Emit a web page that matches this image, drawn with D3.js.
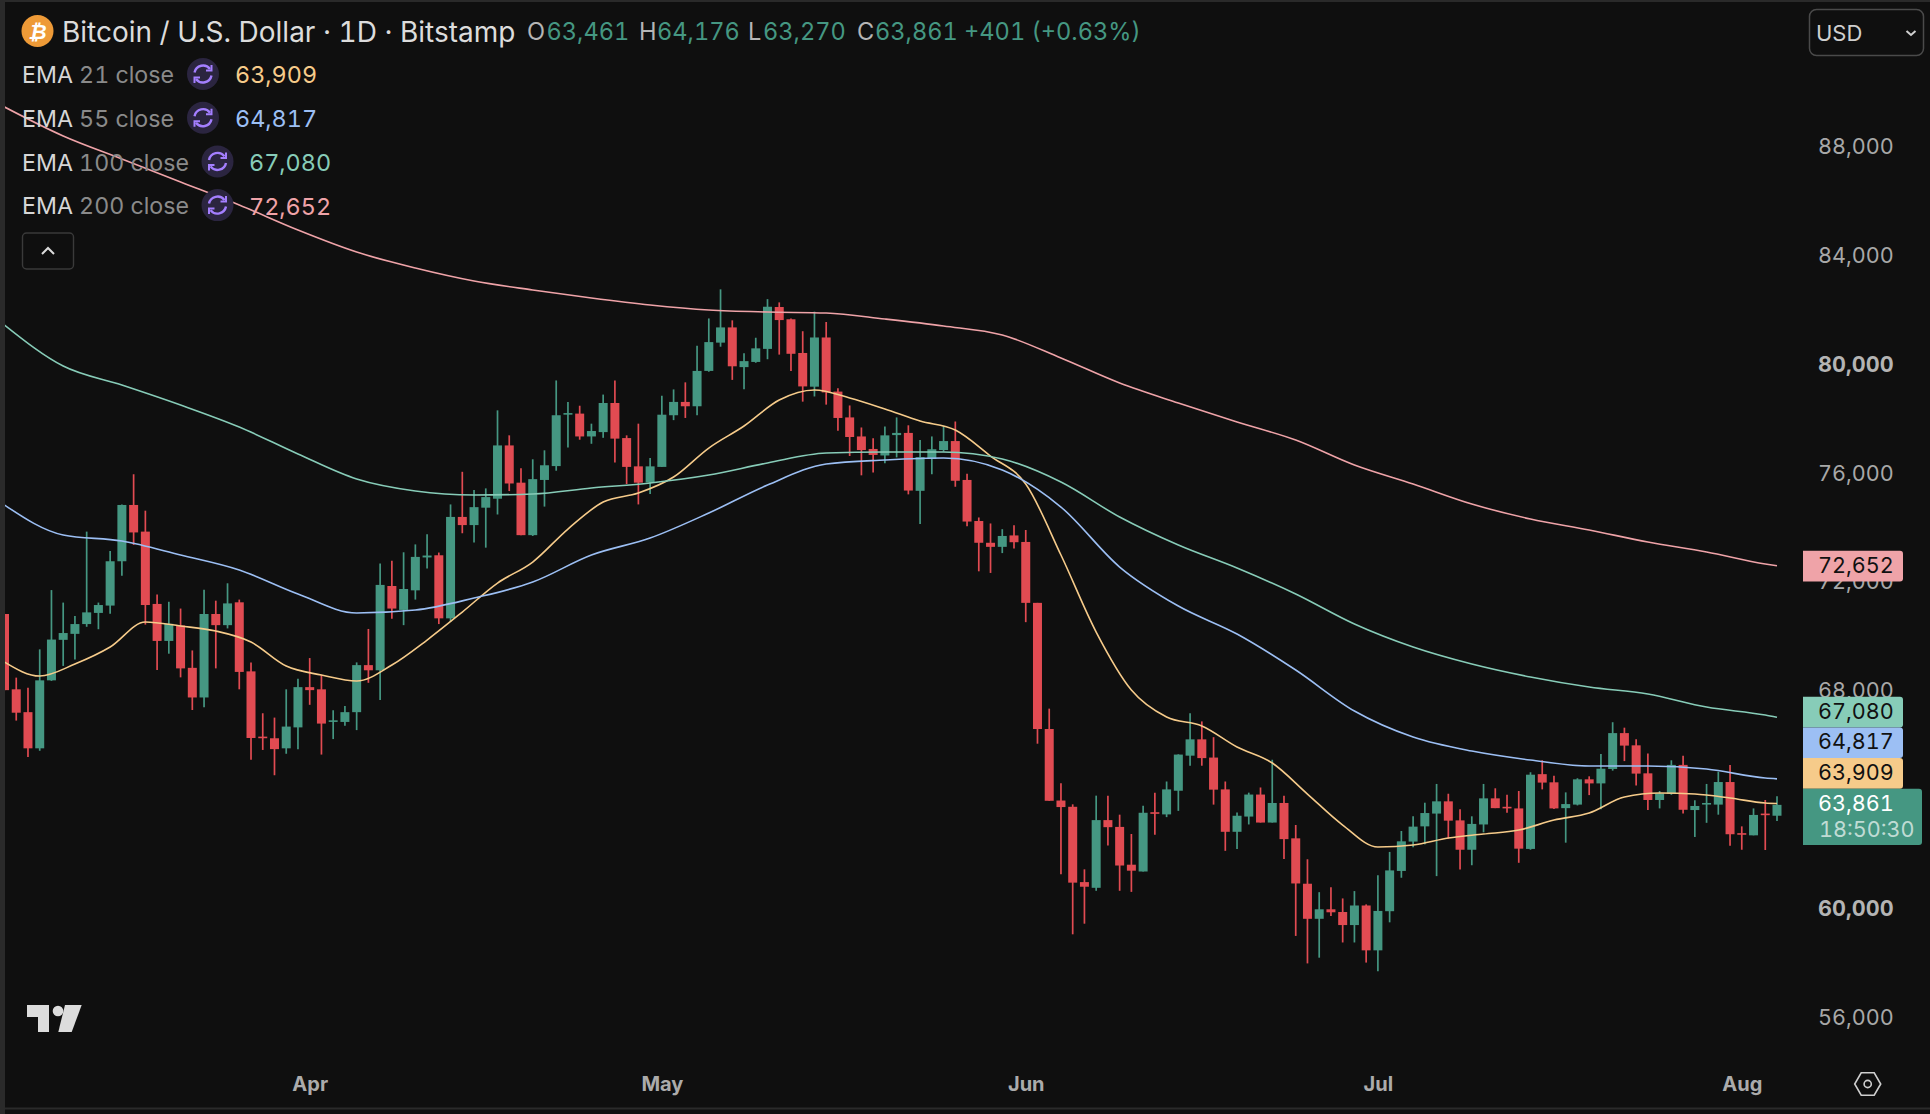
<!DOCTYPE html>
<html><head><meta charset="utf-8">
<script src="https://cdnjs.cloudflare.com/ajax/libs/d3/7.8.5/d3.min.js"></script>
<style>
html,body{margin:0;padding:0;background:#0f0f0f;overflow:hidden}
svg{display:block}
text{font-family:Inter,"Noto Sans",sans-serif;font-variant-numeric:tabular-nums}
.domain,.tick line{display:none}
</style></head><body><svg id="c" width="1930" height="1114"></svg>
<script>
const opens=[70880,68110,67270,65940,68440,69930,70150,70510,70920,71190,72820,74890,73910,71250,69890,70460,68900,67810,70880,70470,71310,68770,66370,66310,65940,66710,68190,68110,66920,66910,67270,69000,68810,71910,71030,71750,72960,73040,70720,74450,74150,74790,75120,77080,75710,73780,75810,76320,78220,78250,77410,77570,78640,77350,76310,75720,76290,78190,78680,78520,79820,80860,81420,79960,80150,80630,82170,81720,80480,79240,81050,79060,78110,77410,76950,76710,77460,77540,75410,76580,76910,77240,75810,74300,73500,73350,73770,73530,71290,66650,64020,63790,61020,60810,63300,63050,61660,61410,63590,63510,64380,65670,66270,65600,64430,62870,63430,64240,63210,63930,62630,60960,59670,60020,59920,59440,60160,58510,59950,61430,62510,63070,63540,63990,63290,62210,63140,64100,63790,63730,62240,64990,64690,63740,63870,64800,64650,65180,66500,66050,65020,64040,64270,65330,63670,63880,63870,64700,62820,62740,63540,63461];
const highs=[70880,68540,68170,69580,71760,71300,70810,73910,71300,73200,74910,76020,74680,71600,71330,71080,69540,71770,71370,72010,71410,69100,67230,67070,68110,68500,69260,68640,67340,67500,69100,70330,72740,72840,73150,73440,73810,73140,74910,76110,75440,75500,78370,77450,76240,76570,76900,79470,78680,78540,77880,78950,79470,77450,77880,76620,78910,79140,79400,80750,81750,82820,81680,80470,81040,82460,82340,81750,81280,82000,81620,79180,78550,77740,77340,77780,78110,77820,77280,77410,77800,77960,76040,74430,74210,74000,74140,73970,71290,67400,64660,63880,61490,64200,64200,63500,62790,63830,64310,64720,65720,67230,66930,66350,64720,63580,64310,64500,65520,64200,63120,61860,60650,60830,60420,60690,60200,61270,62130,62900,63440,63940,64630,64270,63700,63440,64630,64470,64230,64370,65060,65500,64930,64320,64840,64910,65730,66900,66700,66270,65750,64370,65500,65670,64030,64630,65080,65330,63070,63730,64040,64176];
const lows=[68080,66960,65620,65850,68420,68970,69210,70410,70320,70890,72290,73420,70490,68820,69420,68550,67350,67450,68880,70350,68110,65520,65880,64950,65740,65910,67540,65710,66280,66770,66610,68350,67720,70710,70470,71410,72550,70510,70590,73850,73510,73320,74540,75400,73780,73750,74830,76150,77000,77290,77140,77360,76450,75660,74910,75290,76290,78010,78090,78190,79790,80710,79490,79150,80120,80250,80420,79820,78690,78880,78580,77620,76690,75980,76080,76420,76640,75280,74190,76020,76850,75560,74110,72450,72390,73120,73290,70580,66110,64010,61310,59100,59490,60700,62370,60700,60660,61410,62760,63410,63640,65300,65300,63870,62170,62240,63140,63210,63210,61870,59040,58030,58240,59770,58800,58800,58060,57740,59540,61180,62300,62410,61240,62620,61480,61640,62850,63740,63570,61730,62210,64430,63710,62470,63840,64220,63700,65120,65470,64570,63670,63730,64230,63540,62680,63200,63500,62360,62210,62740,62200,63270];
const closes=[68080,67250,65940,68440,69940,70180,70510,70940,71210,72820,74890,73880,71210,69890,70520,68880,67810,70880,70470,71270,68750,66320,66320,65910,66740,68190,68080,66850,66970,67270,69000,68810,71950,71080,71800,72980,73030,70720,74450,74150,74810,75180,77080,75680,73780,75840,76350,78190,78270,77410,77610,78640,77330,76290,75710,76310,78210,78680,78520,79820,80880,81420,79990,80180,80650,82180,81690,80450,79250,81050,79030,78090,77390,76910,76730,77450,77540,75420,76650,76940,77240,75780,74280,73500,73350,73750,73520,71290,66650,64010,63780,61000,60850,63300,63040,61630,61440,63570,63540,64430,65710,66270,65580,64420,62870,63460,64240,63210,63930,62600,60970,59670,60020,59910,59440,60160,58510,59960,61450,62520,63060,63560,63990,63280,62210,63160,64100,63740,63740,62250,64970,64680,63730,63890,64800,64650,65190,66500,66040,65010,64040,64280,65330,63680,63820,63930,64700,62780,62780,63490,63490,63861];
const slowDays=[0,5,10,15,20,25,30,35,40,45,50,55,60,65,70,75,80,85,90,95,100,105,110,115,120,125,130,135,140,145,150,151];
const ema200=[89526,88460,87614,86768,85922,85002,84193,83605,83127,82796,82501,82244,82060,81986,81950,81729,81472,81141,80295,79375,78640,77941,77279,76359,75660,74925,74373,73968,73527,73159,72718,72652];
const ema100=[81508,80000,79302,78566,77757,76764,75844,75403,75256,75293,75513,75697,75991,76433,76800,76837,76837,76580,75734,74447,73417,72571,71615,70511,69665,69040,68562,68194,67936,67458,67164,67080];
const ema55=[74888,73785,73564,73049,72497,71615,70916,71026,71467,72056,73049,73674,74594,75624,76396,76543,76617,76175,74814,72608,71173,70143,68819,67311,66355,65840,65509,65288,65288,65178,64847,64817];
const fastDays=[0,3,6,9,12,15,18,21,24,27,30,33,36,39,42,45,48,51,54,57,60,63,66,69,72,75,78,81,84,87,90,93,96,99,102,105,108,111,114,117,120,123,126,129,132,135,138,141,144,147,150,151];
const ema21=[69114,68599,69040,69665,70585,70438,70254,69849,68966,68635,68415,69003,69923,70952,72019,72792,74005,74998,75329,75918,76984,77794,78750,79118,78823,78419,77977,77646,76690,75660,73049,70217,68084,67091,66760,65987,65399,64258,63118,62309,62383,62640,62787,62934,63302,63560,64148,64295,64258,64111,63927,63909];
const priceTicks=[88000,84000,80000,76000,72000,68000,60000,56000];
const boldPrices=[80000,60000];
const monthDays=[26,56,87,117,148];
const monthNames=["Apr","May","Jun","Jul","Aug"];
const legendNames=["21","55","100","200"];
const legendValues=["63,909","64,817","67,080","72,652"];
const ohlcParts=["O","63,461","H","64,176","L","63,270","C","63,861","+401 (+0.63%)"];

const GREEN="#459782",RED="#e14b52";
const emaColors=["#f6cb8a","#9cbff4","#87ccb8","#efa3a8"];
const svg=d3.select("#c");
svg.append("rect").attr("width",1930).attr("height",1114).attr("fill","#0f0f0f");

const x=d3.scaleLinear().domain([0,151]).range([4.5,1777]);
const y=d3.scaleLinear().domain([88000,56000]).range([148.5,1018.6]);

svg.append("defs").append("clipPath").attr("id","plot").append("rect").attr("x",5).attr("y",0).attr("width",1925).attr("height",1114);
const plot=svg.append("g").attr("clip-path","url(#plot)");

const rows=d3.range(opens.length).map(i=>({i,o:opens[i],h:highs[i],l:lows[i],c:closes[i]}));
const col=d=>d.c>=d.o?GREEN:RED;
const gc=plot.append("g");
gc.selectAll("line").data(rows).join("line")
 .attr("x1",d=>x(d.i)).attr("x2",d=>x(d.i)).attr("y1",d=>y(d.h)).attr("y2",d=>y(d.l))
 .attr("stroke",col).attr("stroke-width",1.7);
gc.selectAll("rect").data(rows).join("rect")
 .attr("x",d=>x(d.i)-4.5).attr("width",9)
 .attr("y",d=>Math.min(y(d.o),y(d.c))).attr("height",d=>Math.max(1.6,Math.abs(y(d.o)-y(d.c))))
 .attr("fill",col);

const line=d3.line().x(d=>x(d[0])).y(d=>y(d[1])).curve(d3.curveMonotoneX);
[[fastDays,ema21,0],[slowDays,ema55,1],[slowDays,ema100,2],[slowDays,ema200,3]].forEach(([days,vals,k])=>{
  plot.append("path").attr("d",line(days.map((d,i)=>[d,vals[i]])))
   .attr("fill","none").attr("stroke",emaColors[k]).attr("stroke-width",1.6);
});

// axes
const ay=svg.append("g").attr("transform","translate(1818,-1.5)")
 .call(d3.axisRight(y).tickValues(priceTicks).tickFormat(d3.format(",")).tickSize(0).tickPadding(0));
ay.selectAll("text").attr("font-size",21.6).attr("x",0)
 .attr("font-weight",d=>boldPrices.includes(d)?700:400).style("font-family","Inter,sans-serif")
 .attr("fill",d=>boldPrices.includes(d)?"#b4b4b4":"#a8a8a8");
const ax=svg.append("g").attr("transform","translate(0,1084)")
 .call(d3.axisBottom(x).tickValues(monthDays).tickFormat((d,i)=>monthNames[i]).tickSize(0).tickPadding(0));
ax.selectAll("text").attr("font-size",20).attr("font-weight",700).attr("fill","#ababab").attr("y",0).attr("dy","0.35em").style("font-family","Inter,sans-serif");

// frame
svg.append("rect").attr("x",0).attr("y",0).attr("width",5).attr("height",1114).attr("fill","#2a2a2a");
svg.append("rect").attr("x",0).attr("y",0).attr("width",1930).attr("height",2).attr("fill","#2a2a2a");
svg.append("rect").attr("x",5).attr("y",1107.5).attr("width",1925).attr("height",2).attr("fill","#2a2a2a");

// price labels
function tag(top,h,w,fill,label,tc){
 svg.append("path").attr("d",`M1803,${top}H${1803+w-3}q3,0 3,3V${top+h-3}q0,3 -3,3H1803Z`).attr("fill",fill);
 svg.append("text").attr("x",1818).attr("y",top+14.3).attr("dy","0.36em").attr("font-size",21.6).attr("fill",tc).text(label);
}
tag(550.7,30.7,100,emaColors[3],legendValues[3],"#111");
tag(696.7,30.7,100,emaColors[2],legendValues[2],"#111");
tag(727.4,30.7,100,emaColors[1],legendValues[1],"#111");
tag(758.1,30.7,100,emaColors[0],legendValues[0],"#111");
tag(788.8,56.2,119,GREEN,ohlcParts[7],"#fff");
svg.append("text").attr("x",1819).attr("y",829).attr("dy","0.36em").attr("font-size",21.6).attr("fill","rgba(255,255,255,.68)").text("18:50:30");

// header
svg.append("circle").attr("cx",37.5).attr("cy",31).attr("r",16).attr("fill","#ee9a37");
svg.append("text").attr("x",37.5).attr("y",31).attr("dy","0.36em").attr("text-anchor","middle").attr("font-size",21).attr("font-weight",700).attr("font-style","italic").attr("fill","#fff").style("font-family","'DejaVu Sans',sans-serif").text("₿");
svg.append("text").attr("x",62).attr("y",32).attr("dy","0.36em").attr("font-size",28).attr("fill","#dcdcdc").text("Bitcoin / U.S. Dollar · 1D · Bitstamp");
const ohlcX=[527,546.5,639,657,748,763,857,875,964];
ohlcParts.forEach((t,i)=>{
 svg.append("text").attr("x",ohlcX[i]).attr("y",32).attr("dy","0.36em").attr("font-size",23.6)
  .attr("fill",(i%2===0&&i<8)?"#b5b5b5":GREEN).text(t);
});

// legend
legendNames.forEach((n,i)=>{
 const cy=75+i*43.7, wide=n.length>2, ix=wide?217.5:203, vx=wide?249:235;
 const t=svg.append("text").attr("x",22).attr("y",cy).attr("dy","0.36em").attr("font-size",23.2);
 t.append("tspan").attr("fill","#d6d6d6").text("EMA ");
 t.append("tspan").attr("fill","#8a8a8a").text(n+" close");
 svg.append("circle").attr("cx",ix).attr("cy",cy-1).attr("r",16).attr("fill","#2b2540");
 const g=svg.append("g").attr("transform",`translate(${ix},${cy-1})`).attr("fill","none").attr("stroke","#a47fff").attr("stroke-width",2.4);
 g.append("path").attr("d","M-8.5,-1.5A8.7,8.7 0 0 1 7,-5");
 g.append("path").attr("d","M8.5,1.5A8.7,8.7 0 0 1 -7,5");
 g.append("path").attr("d","M8.5,-9V-3.5H3").attr("stroke-width",2);
 g.append("path").attr("d","M-8.5,9V3.5H-3").attr("stroke-width",2);
 svg.append("text").attr("x",vx).attr("y",cy).attr("dy","0.36em").attr("font-size",23.4).attr("fill",emaColors[i]).text(legendValues[i]);
});
svg.append("rect").attr("x",22.5).attr("y",233).attr("width",51).attr("height",36).attr("rx",4).attr("fill","none").attr("stroke","#3a3a3a").attr("stroke-width",1.4);
svg.append("path").attr("d","M42,254L48,248L54,254").attr("fill","none").attr("stroke","#dcdcdc").attr("stroke-width",2);

// currency box
svg.append("rect").attr("x",1809.5).attr("y",9.5).attr("width",114).attr("height",46).attr("rx",7).attr("fill","none").attr("stroke","#4a4a4a").attr("stroke-width",1.5);
svg.append("text").attr("x",1816).attr("y",33).attr("dy","0.36em").attr("font-size",22).attr("fill","#cfcfcf").text("USD");
svg.append("path").attr("d","M1906.5,31L1911,35L1915.5,31").attr("fill","none").attr("stroke","#cfcfcf").attr("stroke-width",2);

// brand mark & settings icon
svg.append("path").attr("d","M27,1005H49V1032H38V1017H27Z").attr("fill","#dcdcdc");
svg.append("circle").attr("cx",58).attr("cy",1011).attr("r",5.3).attr("fill","#dcdcdc");
svg.append("path").attr("d","M65,1005H81.7L71.7,1032H58.3Z").attr("fill","#dcdcdc");
const hx=1867.7,hy=1084,hr=13;
svg.append("path").attr("d",d3.range(6).map(i=>{const a=i*Math.PI/3;return (i?"L":"M")+(hx+hr*Math.cos(a))+","+(hy+hr*Math.sin(a));}).join("")+"Z").attr("fill","none").attr("stroke","#cfcfcf").attr("stroke-width",1.6);
svg.append("circle").attr("cx",hx).attr("cy",hy).attr("r",3.6).attr("fill","none").attr("stroke","#cfcfcf").attr("stroke-width",1.6);
</script></body></html>
